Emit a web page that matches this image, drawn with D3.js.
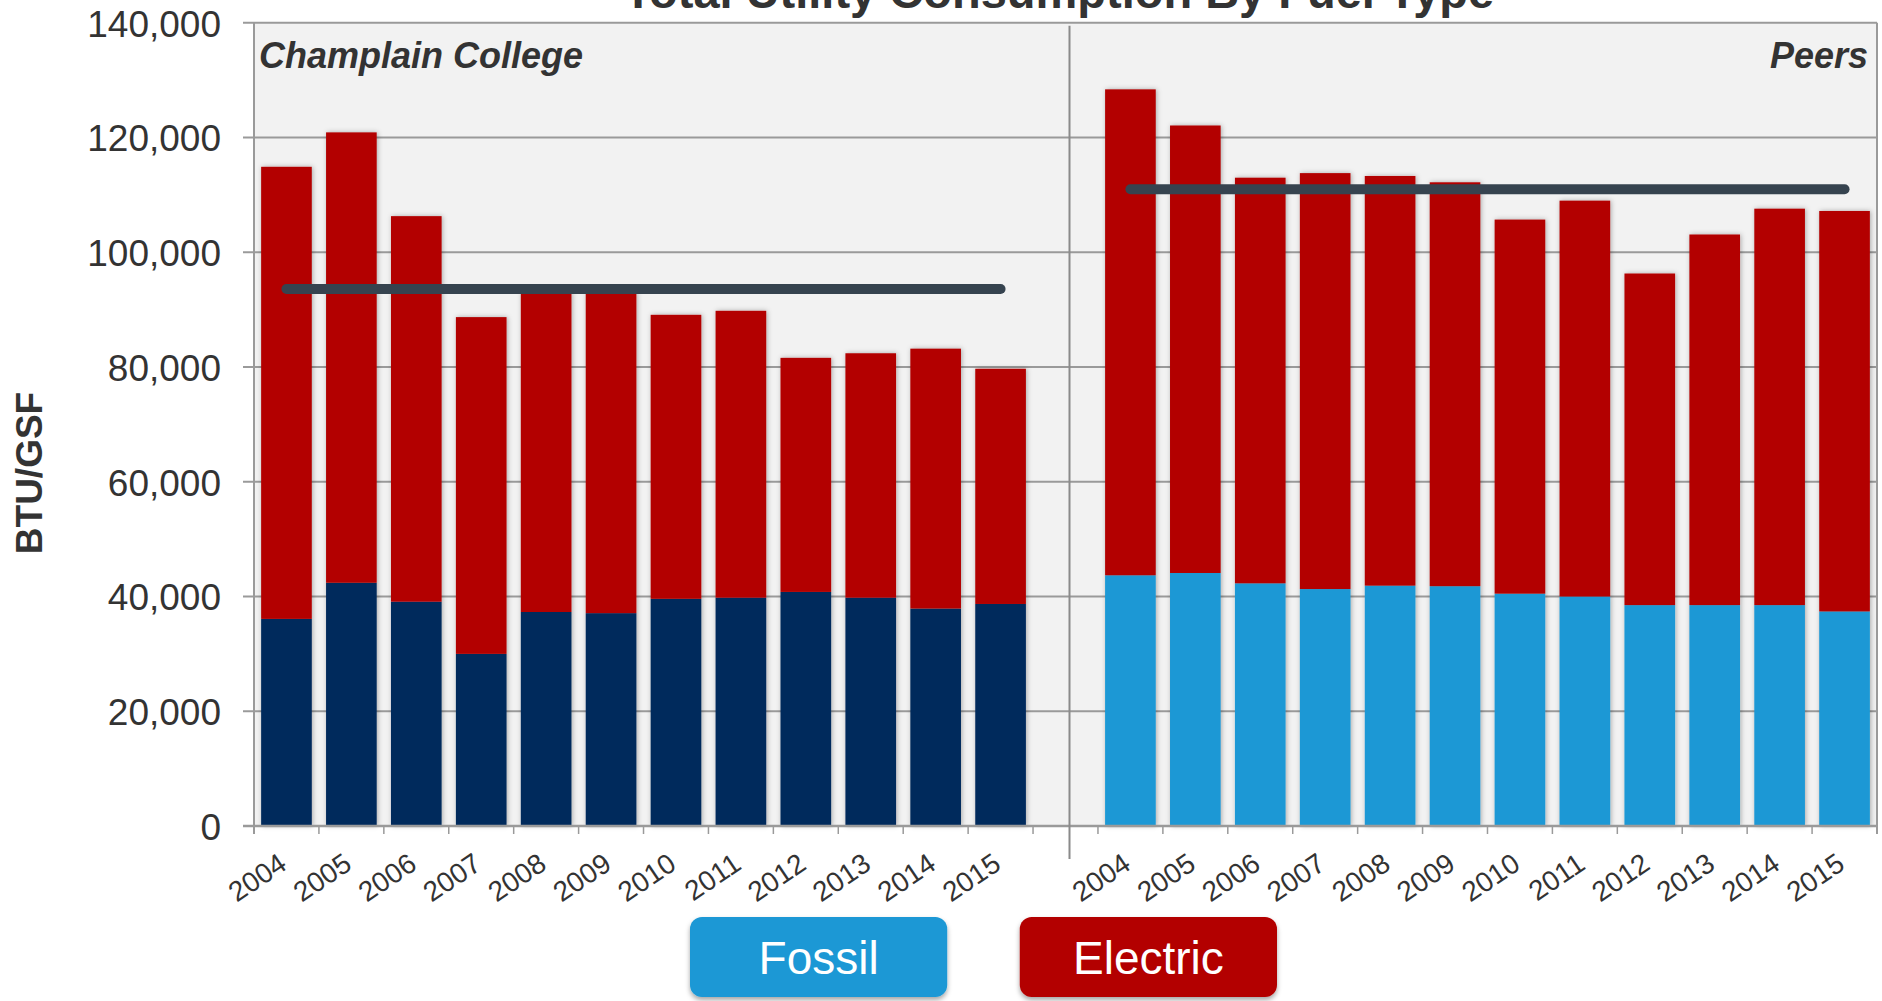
<!DOCTYPE html>
<html>
<head>
<meta charset="utf-8">
<script src="https://cdn.jsdelivr.net/npm/d3@7"></script>
<style>
  html, body { margin: 0; padding: 0; background: #ffffff; }
  svg { display: block; font-family: "Liberation Sans", Arial, sans-serif; }
</style>
</head>
<body>
<svg id="chart" width="1882" height="1001"></svg>
<script>
// ---- Data ----
const years = ["2004","2005","2006","2007","2008","2009","2010","2011","2012","2013","2014","2015"];
const champlainFossil   = [36100, 42400, 39100, 30000, 37300, 37100, 39600, 39800, 40800, 39800, 37900, 38700];
const champlainElectric = [78800, 78500, 67200, 58700, 55900, 56000, 49500, 50000, 40800, 42600, 45300, 41000];
const peersFossil       = [43700, 44100, 42300, 41300, 41900, 41800, 40500, 40000, 38500, 38500, 38500, 37400];
const peersElectric     = [84700, 78000, 70700, 72500, 71400, 70400, 65200, 69000, 57800, 64600, 69100, 69800];
const averageLines = [
  { group: "C", value: 93600 },
  { group: "P", value: 111000 }
];
const panelTitles = ["Champlain College", "Peers"];
const yTickValues = [0, 20000, 40000, 60000, 80000, 100000, 120000, 140000];
const legendKeys = ["Fossil", "Electric"];
const chartTitle = "Total Utility Consumption By Fuel Type";
const yAxisTitle = "BTU/GSF";

// ---- Styling ----
const colors = {
  champFossil: "#002a5c",
  peerFossil: "#1b98d5",
  electric: "#b30000",
  line: "#36434f",
  grid: "#9a9a9a",
  plotBg: "#f2f2f2",
  text: "#333333"
};

const svg = d3.select("#chart");
const margin = { left: 254, right: 1877, top: 22.8, bottom: 826 };

const keys = years.map(y => "C" + y).concat(["gap"], years.map(y => "P" + y));
const x = d3.scaleBand().domain(keys).range([margin.left, margin.right])
  .paddingInner(0.22).paddingOuter(0.11);
const y = d3.scaleLinear().domain([0, 140000]).range([margin.bottom, margin.top]);

// rows
const rows = [];
years.forEach((yr, i) => {
  rows.push({ key: "C" + yr, group: "C", year: yr, fossil: champlainFossil[i], electric: champlainElectric[i] });
});
years.forEach((yr, i) => {
  rows.push({ key: "P" + yr, group: "P", year: yr, fossil: peersFossil[i], electric: peersElectric[i] });
});

// defs
const defs = svg.append("defs");
const f1 = defs.append("filter").attr("id", "barShadow").attr("x", "-20%").attr("y", "-5%").attr("width", "140%").attr("height", "110%");
f1.append("feDropShadow").attr("dx", 1).attr("dy", 0).attr("stdDeviation", 2.5)
  .attr("flood-color", "#000").attr("flood-opacity", 0.3);
const f2 = defs.append("filter").attr("id", "boxShadow").attr("x", "-10%").attr("y", "-10%").attr("width", "120%").attr("height", "140%");
f2.append("feDropShadow").attr("dx", 0).attr("dy", 3).attr("stdDeviation", 2.5)
  .attr("flood-color", "#000").attr("flood-opacity", 0.35);

// plot background
svg.append("rect")
  .attr("x", margin.left).attr("y", margin.top)
  .attr("width", margin.right - margin.left).attr("height", margin.bottom - margin.top)
  .attr("fill", colors.plotBg);

// gridlines
svg.append("g").selectAll("line").data(yTickValues).join("line")
  .attr("x1", margin.left - 11).attr("x2", margin.right)
  .attr("y1", d => y(d)).attr("y2", d => y(d))
  .attr("stroke", colors.grid).attr("stroke-width", 2);

// y axis labels
const yAxis = d3.axisLeft(y).tickValues(yTickValues).tickFormat(d3.format(",")).tickSize(0).tickPadding(33);
const yg = svg.append("g").attr("transform", `translate(${margin.left},0)`).call(yAxis);
yg.select(".domain").remove();
yg.selectAll("text").attr("font-size", 37).attr("fill", colors.text)
  .attr("font-family", "'Liberation Sans', Arial, sans-serif").attr("dy", "0.36em");

// bars
const barG = svg.append("g").attr("filter", "url(#barShadow)");
const bars = barG.selectAll("g").data(rows).join("g");
bars.append("rect")
  .attr("x", d => x(d.key)).attr("width", x.bandwidth())
  .attr("y", d => y(d.fossil)).attr("height", d => y(0) - y(d.fossil))
  .attr("fill", d => d.group === "C" ? colors.champFossil : colors.peerFossil);
bars.append("rect")
  .attr("x", d => x(d.key)).attr("width", x.bandwidth())
  .attr("y", d => y(d.fossil + d.electric)).attr("height", d => y(d.fossil) - y(d.fossil + d.electric))
  .attr("fill", colors.electric);

// average lines
averageLines.forEach(a => {
  const first = x(a.group + years[0]) + x.bandwidth() / 2;
  const last = x(a.group + years[years.length - 1]) + x.bandwidth() / 2;
  svg.append("line")
    .attr("x1", first).attr("x2", last)
    .attr("y1", y(a.value)).attr("y2", y(a.value))
    .attr("stroke", colors.line).attr("stroke-width", 10).attr("stroke-linecap", "round");
});

// axes lines
svg.append("line").attr("x1", margin.left).attr("x2", margin.left)
  .attr("y1", margin.top).attr("y2", margin.bottom + 8).attr("stroke", colors.grid).attr("stroke-width", 2);
svg.append("line").attr("x1", margin.right).attr("x2", margin.right)
  .attr("y1", margin.top).attr("y2", margin.bottom + 8).attr("stroke", colors.grid).attr("stroke-width", 2);
svg.append("line").attr("x1", margin.left - 11).attr("x2", margin.right)
  .attr("y1", margin.bottom).attr("y2", margin.bottom).attr("stroke", colors.grid).attr("stroke-width", 2.5);

// x ticks at band boundaries
const half = (x.step() - x.bandwidth()) / 2;
const boundaries = [];
["C", "P"].forEach(g => {
  years.forEach((yr, i) => {
    boundaries.push(x(g + yr) - half);
    if (i === years.length - 1) boundaries.push(x(g + yr) + x.bandwidth() + half);
  });
});
svg.append("g").selectAll("line").data(boundaries).join("line")
  .attr("x1", d => d).attr("x2", d => d)
  .attr("y1", margin.bottom).attr("y2", margin.bottom + 8)
  .attr("stroke", colors.grid).attr("stroke-width", 1.5);

// panel divider
const divX = x("gap") + x.bandwidth() / 2 + 4;
svg.append("line").attr("x1", divX).attr("x2", divX)
  .attr("y1", margin.top + 3).attr("y2", margin.bottom + 33)
  .attr("stroke", "#8a8a8a").attr("stroke-width", 2);

// x labels
const xAxis = d3.axisBottom(x).tickValues(keys.filter(k => k !== "gap"))
  .tickFormat(k => k.slice(1)).tickSize(0);
const xg = svg.append("g").attr("transform", `translate(0,${margin.bottom})`).call(xAxis);
xg.select(".domain").remove();
xg.selectAll("text")
  .attr("font-size", 28).attr("fill", colors.text)
  .attr("font-family", "'Liberation Sans', Arial, sans-serif")
  .attr("text-anchor", "end")
  .attr("x", 2).attr("y", 42).attr("dy", 0)
  .attr("transform", "rotate(-34, 2, 42)");

// panel titles
svg.append("text").attr("x", margin.left + 5).attr("y", 68)
  .attr("font-size", 36).attr("font-weight", "bold").attr("font-style", "italic")
  .attr("fill", colors.text).text(panelTitles[0]);
svg.append("text").attr("x", margin.right - 9).attr("y", 68).attr("text-anchor", "end")
  .attr("font-size", 36).attr("font-weight", "bold").attr("font-style", "italic")
  .attr("fill", colors.text).text(panelTitles[1]);

// chart title
svg.append("text").attr("x", 1059).attr("y", 8).attr("text-anchor", "middle")
  .attr("font-size", 47).attr("font-weight", "bold").attr("fill", colors.text).text(chartTitle);

// y axis title
svg.append("text").attr("transform", "translate(42,473) rotate(-90)").attr("text-anchor", "middle")
  .attr("font-size", 37).attr("font-weight", "bold").attr("fill", colors.text).text(yAxisTitle);

// legend
const legendX = d3.scaleBand().domain(legendKeys).range([690, 1277]).paddingInner(0.22);
const legendColor = d3.scaleOrdinal().domain(legendKeys).range([colors.peerFossil, colors.electric]);
const lg = svg.append("g").selectAll("g").data(legendKeys).join("g")
  .attr("transform", d => `translate(${legendX(d)},917)`);
lg.append("rect").attr("width", legendX.bandwidth()).attr("height", 80)
  .attr("rx", 12).attr("ry", 12).attr("fill", d => legendColor(d)).attr("filter", "url(#boxShadow)");
lg.append("text").attr("x", legendX.bandwidth() / 2).attr("y", 57).attr("text-anchor", "middle")
  .attr("font-size", 46).attr("fill", "#ffffff").text(d => d);
</script>
</body>
</html>
